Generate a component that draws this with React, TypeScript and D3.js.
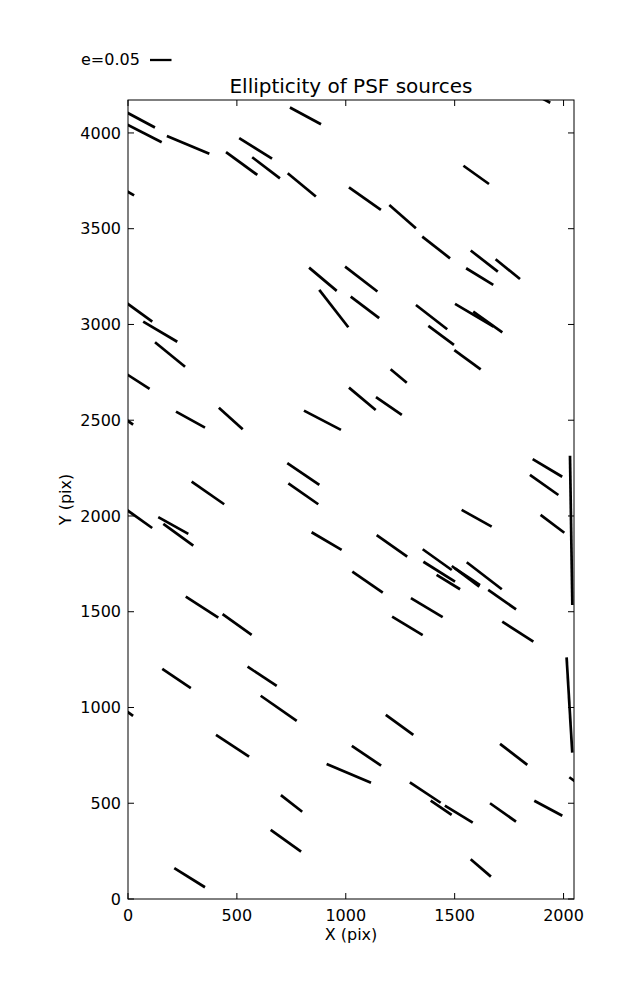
import React from "react";
import * as d3 from "d3";

// Source positions (pix), ellipticity and position angle (deg, screen frame)
const srcX = [55, 73, 276, 815, 586, 522, 634, 798, 5, 895, 945, 1071, 46, 148, 193, 1919, 1599, 1088, 1261, 1415, 1636, 1744, 1615, 1088, 1394, 1438, 1590, 1652, 1559, 41, 287, 472, 893, 5, 805, 805, 367, 46, 208, 231, 912, 340, 501, 1243, 1076, 1198, 1926, 1911, 2035, 1601, 1949, 1212, 1420, 1429, 1471, 1550, 1559, 1636, 1718, 1100, 1372, 1283, 1790, 223, 616, 692, 5, 480, 1014, 751, 725, 283, 2027, 2045, 1247, 1095, 1771, 1365, 1438, 1519, 1722, 1930, 1620];
const srcY = [4070, 3999, 3938, 4089, 3919, 3840, 3818, 3729, 3689, 3236, 3083, 3237, 3069, 2962, 2843, 4170, 3781, 3657, 3563, 3402, 3331, 3289, 3250, 3089, 3038, 2943, 3048, 3013, 2816, 2706, 2503, 2509, 2500, 2492, 2219, 2116, 2120, 1990, 1950, 1902, 1869, 1524, 1433, 2731, 2612, 2574, 2251, 2162, 1925, 1988, 1959, 1844, 1772, 1709, 1655, 1685, 1683, 1688, 1563, 1654, 1521, 1426, 1396, 1151, 1163, 996, 971, 800, 656, 499, 304, 111, 1013, 621, 909, 748, 755, 556, 476, 443, 452, 474, 162];
const ellip = [0.079, 0.093, 0.107, 0.082, 0.090, 0.090, 0.081, 0.085, 0.027, 0.084, 0.110, 0.095, 0.082, 0.092, 0.090, 0.023, 0.073, 0.091, 0.082, 0.082, 0.080, 0.073, 0.074, 0.083, 0.092, 0.074, 0.104, 0.083, 0.076, 0.070, 0.077, 0.075, 0.097, 0.023, 0.090, 0.085, 0.092, 0.081, 0.080, 0.086, 0.081, 0.090, 0.083, 0.049, 0.081, 0.073, 0.080, 0.081, 0.347, 0.080, 0.069, 0.087, 0.083, 0.087, 0.064, 0.080, 0.070, 0.103, 0.079, 0.086, 0.086, 0.083, 0.086, 0.080, 0.081, 0.102, 0.023, 0.092, 0.112, 0.063, 0.087, 0.084, 0.222, 0.023, 0.079, 0.082, 0.080, 0.086, 0.059, 0.076, 0.074, 0.074, 0.062];
const angleDeg = [-28.1, -27.1, -22.6, -28.2, -32.0, -36.0, -37.2, -39.6, -30, -40.1, -52.1, -37.7, -36, -30.5, -39.1, -28, -35.5, -35.3, -41.1, -38, -37.9, -39, -31.5, -37.1, -37.8, -36.5, -30.7, -35.4, -36.2, -32.8, -28.9, -42.3, -27.5, -35, -34.1, -35, -34.7, -35.5, -29.1, -35.9, -30.5, -32.8, -35.5, -39.9, -39.9, -34.6, -30.9, -35.2, -89.1, -29.1, -36.9, -35.3, -35.5, -32.2, -31.5, -36.9, -33.7, -37.6, -34.9, -34.6, -30.9, -31, -32.8, -33.9, -33.2, -34.8, -36, -33.3, -22.9, -38.1, -35.6, -31.8, -86.6, -35, -35.9, -33.9, -37.6, -33.6, -34.3, -31.5, -35.3, -28.2, -40.6];

const xTicks = [0, 500, 1000, 1500, 2000];
const yTicks = [0, 500, 1000, 1500, 2000, 2500, 3000, 3500, 4000];
const keyE = 0.05;

const W = 637, H = 1000;
const L = 128, R = 574, T = 100, B = 899;

export default function App() {
  const x = d3.scaleLinear().domain([0, 2048]).range([L, R]);
  const y = d3.scaleLinear().domain([0, 4172]).range([B, T]);
  const len = d3.scaleLinear().domain([0, keyE]).range([0, 21.5]);
  const font = "'DejaVu Sans', sans-serif";
  const tk = 6;

  const segs = srcX.map((sx, i) => {
    const cx = x(sx), cy = y(srcY[i]);
    const h = len(ellip[i]) / 2;
    const a = (angleDeg[i] * Math.PI) / 180;
    return { x1: cx - h * Math.cos(a), y1: cy + h * Math.sin(a), x2: cx + h * Math.cos(a), y2: cy - h * Math.sin(a) };
  });

  return (
    <div style={{ position: "absolute", left: 0, top: 0 }}>
      <svg width={W} height={H} style={{ display: "block", background: "#fff" }}>
        <defs>
          <clipPath id="plotclip">
            <rect x={L} y={T} width={R - L} height={B - T} />
          </clipPath>
        </defs>
        <g clipPath="url(#plotclip)">
          {segs.map((s, i) => (
            <line key={i} x1={s.x1} y1={s.y1} x2={s.x2} y2={s.y2} stroke="#000" strokeWidth={2.7} />
          ))}
        </g>
        <rect x={L} y={T} width={R - L} height={B - T} fill="none" stroke="#000" strokeWidth={1} />
        {xTicks.map((t) => (
          <g key={"x" + t}>
            <line x1={x(t)} x2={x(t)} y1={B} y2={B - tk} stroke="#000" />
            <line x1={x(t)} x2={x(t)} y1={T} y2={T + tk} stroke="#000" />
            <text x={x(t)} y={921} textAnchor="middle" fontFamily={font} fontSize={16}>{t}</text>
          </g>
        ))}
        {yTicks.map((t) => (
          <g key={"y" + t}>
            <line x1={L} x2={L + tk} y1={y(t)} y2={y(t)} stroke="#000" />
            <line x1={R} x2={R - tk} y1={y(t)} y2={y(t)} stroke="#000" />
            <text x={121} y={y(t)} dy="0.36em" textAnchor="end" fontFamily={font} fontSize={16}>{t}</text>
          </g>
        ))}
        <text x={(L + R) / 2} y={940} textAnchor="middle" fontFamily={font} fontSize={16}>X (pix)</text>
        <text transform={`translate(71,${(T + B) / 2}) rotate(-90)`} textAnchor="middle" fontFamily={font} fontSize={16}>Y (pix)</text>
        <text x={(L + R) / 2} y={93} textAnchor="middle" fontFamily={font} fontSize={20}>Ellipticity of PSF sources</text>
        <text x={81} y={65} fontFamily={font} fontSize={16}>e={keyE.toFixed(2)}</text>
        <line x1={150} x2={150 + len(keyE)} y1={60} y2={60} stroke="#000" strokeWidth={2.3} />
      </svg>
    </div>
  );
}
